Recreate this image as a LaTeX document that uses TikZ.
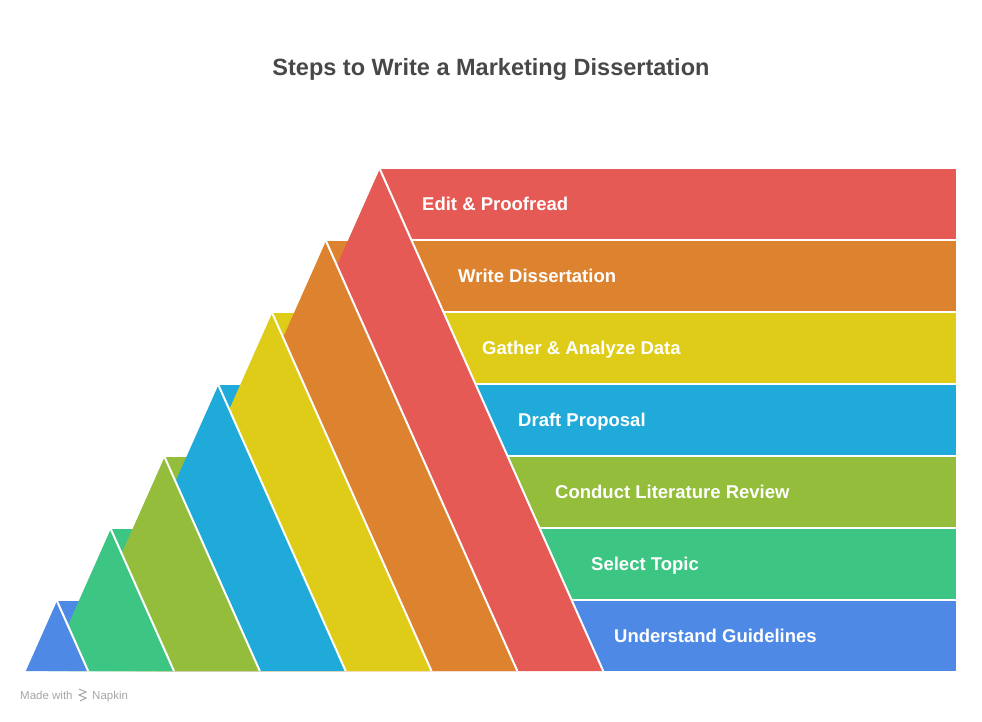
\documentclass[tikz,border=0pt]{standalone}
\usepackage{fontspec}
\setmainfont{Liberation Sans}
\usepackage{tikz}
\usetikzlibrary{positioning}
\definecolor{titlegray}{RGB}{72, 72, 72}
\definecolor{markgray}{RGB}{165, 165, 165}
\definecolor{c0}{RGB}{78, 137, 229}
\definecolor{c1}{RGB}{61, 197, 132}
\definecolor{c2}{RGB}{147, 189, 58}
\definecolor{c3}{RGB}{31, 170, 217}
\definecolor{c4}{RGB}{223, 204, 24}
\definecolor{c5}{RGB}{221, 131, 48}
\definecolor{c6}{RGB}{229, 90, 85}
\tikzset{
    heading/.style={anchor=base, text=titlegray, font=\fontsize{23.5}{28}\selectfont\bfseries, inner sep=0pt},
    steplabel/.style={anchor=base west, text=white, font=\fontsize{18.5}{22}\selectfont\bfseries, inner sep=0pt},
    legline/.style={draw=white, line width=2pt},
    footmark/.style={anchor=base west, text=markgray, font=\fontsize{11.5}{14}\selectfont, inner sep=0pt},
}

\begin{document}
\begin{tikzpicture}[x=1pt,y=-1pt]
  \useasboundingbox (0,0) rectangle (982,721);
  \node[heading] (title) at (491,75.5) {Steps to Write a Marketing Dissertation};

  % bars, one per step
  \foreach \i in {0,...,6} {
    \pgfmathsetmacro\ax{57+53.8*\i}
    \pgfmathsetmacro\ay{601-72*\i}
    \fill[c\i] (\ax,\ay) rectangle (956,\ay+70);
  }
  % slanted legs, top step first
  \foreach \i in {6,5,...,0} {
    \pgfmathsetmacro\ax{57+53.8*\i}
    \pgfmathsetmacro\ay{601-72*\i}
    \pgfmathsetmacro\hw{0.445*(671-\ay)}
    \fill[c\i] (\ax,\ay) -- (\ax-\hw,671) -- (\ax+\hw,671) -- cycle;
    \draw[legline] (\ax,\ay) -- (\ax+\hw,671);
  }
  % labels
  \foreach \i/\lx/\txt in {0/614/Understand Guidelines, 1/591/Select Topic,
      2/555/Conduct Literature Review, 3/518/Draft Proposal,
      4/482/Gather \& Analyze Data, 5/458/Write Dissertation, 6/422/Edit \& Proofread} {
    \pgfmathsetmacro\ay{601-72*\i}
    \node[steplabel] (lab\i) at (\lx,\ay+41.6) {\txt};
  }

  \node[footmark] (made) at (20,699) {Made with};
  \node[footmark] (napkin) at (92,699) {Napkin};
  \draw[markgray, line width=1pt] (79,689) -- (86,692) -- (79,695) -- (86,698) -- (80,701);
\end{tikzpicture}
\end{document}
